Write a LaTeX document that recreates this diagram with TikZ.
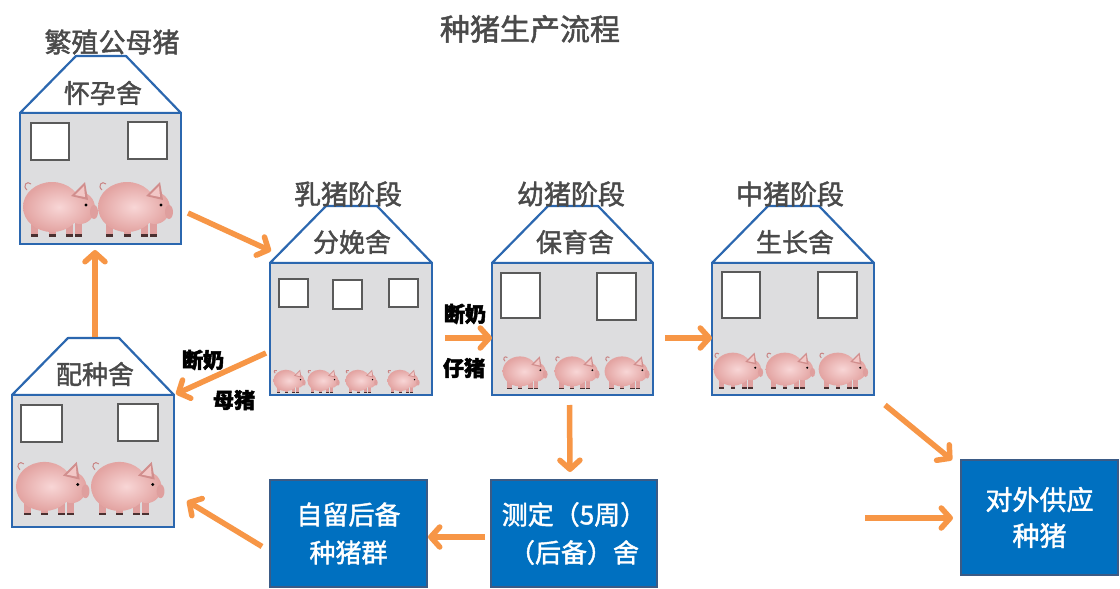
\documentclass[tikz,border=0pt]{standalone}
\usepackage{fontspec}
\newfontfamily\cjk{Noto Sans CJK SC}
\newfontfamily\cjkmed{Noto Sans CJK SC}[FakeBold=1.6]
\newfontfamily\cjkheavy{Noto Sans CJK SC}[FakeBold=2.4]
\usetikzlibrary{arrows.meta,calc}

\definecolor{barnblue}{HTML}{2B67AF}
\definecolor{barngray}{HTML}{DDDDDF}
\definecolor{labelgray}{HTML}{4A4A4A}
\definecolor{wingray}{HTML}{5A5A5A}
\definecolor{arroworange}{HTML}{F79646}
\definecolor{boxblue}{HTML}{0070C0}
\definecolor{boxedge}{HTML}{3B5B86}
\definecolor{pigmid}{HTML}{E3A4A2}
\definecolor{piglight}{HTML}{F8D6D6}
\definecolor{pigdark}{HTML}{C98484}
\definecolor{hoof}{HTML}{4A3030}

\tikzset{
  roofline/.style={draw=barnblue, fill=white, line width=2.2pt, line join=round},
  barnbody/.style={draw=barnblue, fill=barngray, line width=2.4pt, inner sep=0pt, outer sep=0pt},
  win/.style={draw=wingray, fill=white, line width=1.2pt, inner sep=0pt, outer sep=0pt, anchor=north west},
  stagelabel/.style={font=\cjkmed\fontsize{27}{28}\selectfont, text=labelgray, inner sep=0pt},
  rooflabel/.style={font=\cjkmed\fontsize{26}{28}\selectfont, text=labelgray, inner sep=0pt},
  weanlabel/.style={font=\cjkheavy\bfseries\fontsize{21}{22}\selectfont, text=black, inner sep=0pt},
  bluebox/.style={fill=boxblue, draw=boxedge, line width=2pt, text=white, align=center,
    font=\cjkmed\fontsize{26}{38}\selectfont, inner sep=0pt, outer sep=0pt},
  orangearrow/.style={draw=arroworange, line width=5.5pt,
    -{Straight Barb[length=9pt,width=20pt,round]}},
  pig/.pic={
    % legs with dark hooves
    \foreach \lx in {9,27,44,53} {
      \fill[pigmid!85!pigdark] (\lx,38) rectangle ++(7,19);
      \fill[hoof] (\lx,56) rectangle ++(7,2.5);
    }
    % body and head
    \shade[inner color=piglight, outer color=pigmid]
      (30,29) ellipse [x radius=29, y radius=25]
      (58,30) ellipse [x radius=15, y radius=16];
    % ear
    \fill[pigdark!70!pigmid] (49,18) -- (63,4) -- (66,22) -- cycle;
    \fill[piglight!70!pigmid] (53,17) -- (62,8) -- (63,19) -- cycle;
    % snout
    \fill[pigmid!85!pigdark] (72,34) ellipse [x radius=4, y radius=7];
    % eye
    \fill[black] (64,27) circle [radius=1.7];
    % curly tail
    \draw[pigdark, line width=1pt] (5,12) .. controls (0,8) and (5,2) .. (9,6);
  }
}

% a barn: roof on top of a gray body node
\newcommand\barn[5]{%
  \draw[roofline] (#2,#3) -- ++(56,-57) -- ++({#4-111},0) -- ++(55,57) -- cycle;
  \node[barnbody, minimum width=#4pt, minimum height=#5pt, anchor=north west] (#1) at (#2,#3) {};
}

\begin{document}
\begin{tikzpicture}[x=1pt,y=-1pt]
\fill[white] (0,0) rectangle (1120,589);
\useasboundingbox (0,0) rectangle (1120,589);

\node[font=\cjkmed\fontsize{30}{31}\selectfont, text=labelgray, inner sep=0pt] (title) at (530,29) {种猪生产流程};

% barns
\barn{hA}{20}{113}{161}{131}
\barn{hB}{270}{263}{162}{132}
\barn{hC}{492}{263}{161}{132}
\barn{hD}{712}{263}{162}{132}
\barn{hE}{12}{395}{162}{132}

% stage names above the roofs
\node[stagelabel] (sA) at (112,42) {繁殖公母猪};
\node[stagelabel] (sB) at (348,194) {乳猪阶段};
\node[stagelabel] (sC) at (571,194) {幼猪阶段};
\node[stagelabel] (sD) at (790,194) {中猪阶段};

% names in the roofs
\node[rooflabel] (rA) at (103,93) {怀孕舍};
\node[rooflabel] (rB) at (352,242) {分娩舍};
\node[rooflabel] (rC) at (575,242) {保育舍};
\node[rooflabel] (rD) at (795,242) {生长舍};
\node[rooflabel] (rE) at (95,374) {配种舍};

% windows
\node[win, minimum width=38pt, minimum height=37pt] (wA1) at (31,123) {};
\node[win, minimum width=39pt, minimum height=37pt] (wA2) at (128,122) {};
\node[win, minimum width=29pt, minimum height=28pt] (wB1) at (279,279) {};
\node[win, minimum width=29pt, minimum height=29pt] (wB2) at (333,280) {};
\node[win, minimum width=29pt, minimum height=28pt] (wB3) at (389,279) {};
\node[win, minimum width=39pt, minimum height=45pt] (wC1) at (501,273) {};
\node[win, minimum width=39pt, minimum height=47pt] (wC2) at (597,273) {};
\node[win, minimum width=38pt, minimum height=46pt] (wD1) at (722,272) {};
\node[win, minimum width=39pt, minimum height=46pt] (wD2) at (818,272) {};
\node[win, minimum width=41pt, minimum height=37pt] (wE1) at (21,405) {};
\node[win, minimum width=40pt, minimum height=37pt] (wE2) at (118,404) {};

% pigs
\pic at (22,178) {pig};
\pic at (97,178) {pig};
\foreach \px in {273,307,345,387} \pic[scale=0.43] at (\px,368) {pig};
\foreach \px in {502,554,604} \pic[scale=0.6] at (\px,354) {pig};
\foreach \px in {713,765,818} \pic[scale=0.66] at (\px,350) {pig};
\pic[scale=0.98] at (15,458) {pig};
\pic[scale=0.98] at (90,458) {pig};

% blue boxes
\node[bluebox, minimum width=157pt, minimum height=107pt] (bSelf) at (348.5,533.5) {自留后备\\种猪群};
\node[bluebox, minimum width=166pt, minimum height=107pt] (bTest) at (574,533.5) {测定（5周）\\（后备）舍};
\node[bluebox, minimum width=157pt, minimum height=115pt, font=\cjkmed\fontsize{27}{36}\selectfont] (bOut) at (1039.5,517.5) {对外供应\\种猪};

% weaning labels
\node[weanlabel] (wn1) at (203,360) {断奶};
\node[weanlabel] (wn2) at (234,400) {母猪};
\node[weanlabel] (wn3) at (465,314) {断奶};
\node[weanlabel] (wn4) at (464,368) {仔猪};

% flow arrows
\draw[orangearrow] ($(hA.south east)+(7,-31)$) -- ($(hB.north west)+(1,-12)$);
\draw[orangearrow] ($(hE.north)+(2,-58)$) -- ($(hA.south)+(-5.5,6)$);
\draw[orangearrow] ($(hB.west)+(-4,24)$) -- ($(hE.north east)+(2,-1)$);
\draw[orangearrow] ($(hB.east)+(13,9)$) -- ($(hC.west)+(0,9)$);
\draw[orangearrow] ($(hC.east)+(12,9)$) -- ($(hD.west)+(0,9)$);
\draw[orangearrow] ($(hC.south)+(-3,10)$) -- ($(bTest.north)+(-4,-8)$);
\draw[orangearrow] ($(bTest.west)+(-6,3.5)$) -- ($(bSelf.east)+(1,3.5)$);
\draw[orangearrow] ($(bSelf.west)+(-8,13)$) -- ($(hE.east)+(13,40)$);
\draw[orangearrow] ($(hD.south east)+(11,10)$) -- ($(bOut.north west)+(-9,0)$);
\coordinate (feed) at (865,518);
\draw[orangearrow] (feed) -- ($(bOut.west)+(-8,0.5)$);
\end{tikzpicture}
\end{document}
